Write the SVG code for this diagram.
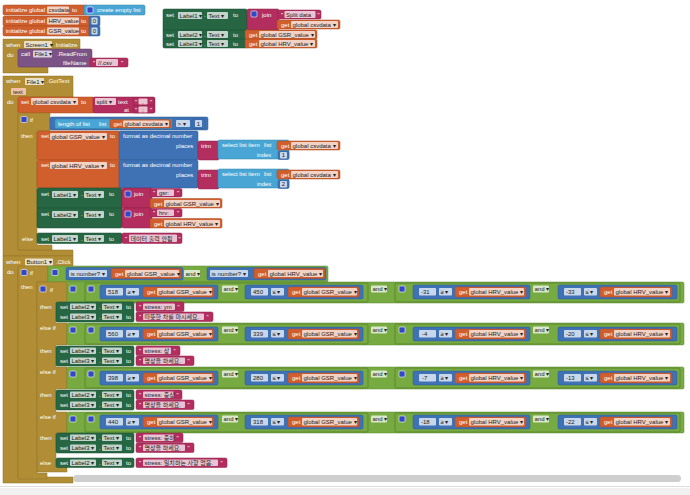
<svg xmlns="http://www.w3.org/2000/svg" width="690" height="495" viewBox="0 0 690 495">
<style>
text{font-family:"Liberation Sans","Noto Sans CJK KR",sans-serif;font-size:6px;fill:#fff}
.d{fill:#222}
.var{fill:#d05f2d;stroke:#a84a22;stroke-width:.5}
.ctl{fill:#b18e35;stroke:#8e7028;stroke-width:.5}
.lg{fill:#77ab41;stroke:#5e8a32;stroke-width:.5}
.lg2{fill:#77ab41;stroke:#55802c;stroke-width:.8}
.mt{fill:#3f71b5;stroke:#2f5890;stroke-width:.5}
.tx{fill:#b32d5e;stroke:#8e2249;stroke-width:.5}
.ls{fill:#49a6d4;stroke:#3686ad;stroke-width:.5}
.cs{fill:#266643;stroke:#1b4c31;stroke-width:.5}
.cm{fill:#7c5385;stroke:#5f3f66;stroke-width:.5}
.f{fill:#fff;fill-opacity:.72}
.p{fill:#f3c2a6}
.g{fill:#3148c8;stroke:#fff;stroke-width:.6}
</style>
<rect width="690" height="495" fill="#fff"/>

<g id="init-csvdata">
<rect class="var" x="3" y="5" width="84" height="10" rx="1.5"/>
<text x="6" y="12">initialize global</text>
<rect class="f" x="47" y="6.5" width="22" height="7" rx="1"/><text class="d" x="48.5" y="12">csvdata</text>
<text x="72" y="12">to</text>
<rect class="ls" x="84" y="5" width="61" height="10" rx="1.5"/>
<rect class="g" x="87" y="7" width="6" height="6" rx="1"/>
<text x="97" y="12">create empty list</text>
</g>

<g id="init-hrv">
<rect class="var" x="3" y="16" width="88" height="10" rx="1.5"/>
<text x="6" y="23">initialize global</text>
<rect class="f" x="47" y="17.5" width="32" height="7" rx="1"/><text class="d" x="48.5" y="23">HRV_value</text>
<text x="81" y="23">to</text>
<rect class="mt" x="89" y="16" width="11" height="10" rx="1.5"/>
<rect class="f" x="91.5" y="17.5" width="6" height="7" rx="1"/><text class="d" x="92.8" y="23">0</text>
</g>

<g id="init-gsr">
<rect class="var" x="3" y="26" width="88" height="10" rx="1.5"/>
<text x="6" y="33">initialize global</text>
<rect class="f" x="47" y="27.5" width="32" height="7" rx="1"/><text class="d" x="48.5" y="33">GSR_value</text>
<text x="81" y="33">to</text>
<rect class="mt" x="89" y="26" width="11" height="10" rx="1.5"/>
<rect class="f" x="91.5" y="27.5" width="6" height="7" rx="1"/><text class="d" x="92.8" y="33">0</text>
</g>

<g id="screen1-initialize">
<path class="ctl" d="M3 39 H80 V50 H18 V67 H48 V73 H3 Z"/>
<text x="6" y="46.5">when</text>
<rect class="f" x="24" y="41" width="28" height="7" rx="1"/><text class="d" x="25.5" y="46.5">Screen1 ▾</text>
<text x="54" y="46.5">.Initialize</text>
<text x="7" y="57">do</text>
<rect class="cm" x="18" y="49" width="74" height="18" rx="1.5"/>
<text x="21" y="55.5">call</text>
<rect class="f" x="33" y="50.5" width="19" height="7" rx="1"/><text class="d" x="34.5" y="56">File1 ▾</text>
<text x="57" y="55.5">.ReadFrom</text>
<text x="63" y="64.5">fileName</text>
<rect class="tx" x="90" y="58" width="38" height="9" rx="1.5"/>
<text x="93" y="64.5">"</text>
<rect class="f" x="96" y="59" width="22" height="7" rx="1"/><text class="d" x="98" y="64.5">//.csv</text>
<text x="121" y="64.5">"</text>
</g>

<g id="set-labels-top">
<rect class="cs" x="163" y="9" width="84" height="39" rx="1.5"/>
<text x="166" y="17">set</text>
<rect class="f" x="178" y="12" width="24" height="7" rx="1"/><text class="d" x="179.5" y="17.5">Label1 ▾</text>
<text x="204" y="17">.</text>
<rect class="f" x="207" y="12" width="21" height="7" rx="1"/><text class="d" x="208.5" y="17.5">Text ▾</text>
<text x="233" y="17">to</text>
<rect class="tx" x="247" y="9" width="32" height="21" rx="1.5"/>
<rect class="g" x="251" y="11" width="6" height="6" rx="1"/>
<text x="262" y="16.5">join</text>
<rect class="tx" x="278" y="10" width="43" height="9" rx="1.5"/>
<text x="281" y="16.5">"</text>
<rect class="f" x="284.5" y="11" width="31" height="7" rx="1"/><text class="d" x="286" y="16.5">Split data</text>
<text x="317.5" y="16.5">"</text>
<rect class="var" x="277" y="20" width="63" height="9" rx="1.5"/>
<text x="281" y="26.5">get</text>
<rect class="f" x="291" y="21" width="47" height="7" rx="1"/><text class="d" x="292.5" y="26.5">global csvdata ▾</text>
<line x1="163" y1="30" x2="247" y2="30" stroke="#1b4c31" stroke-width=".5"/>
<text x="166" y="36.5">set</text>
<rect class="f" x="178" y="31" width="24" height="7" rx="1"/><text class="d" x="179.5" y="36.5">Label2 ▾</text>
<text x="204" y="36.5">.</text>
<rect class="f" x="207" y="31" width="21" height="7" rx="1"/><text class="d" x="208.5" y="36.5">Text ▾</text>
<text x="233" y="36.5">to</text>
<rect class="var" x="245" y="30" width="72" height="9" rx="1.5"/>
<text x="249" y="36.5">get</text>
<rect class="f" x="259" y="31" width="56" height="7" rx="1"/><text class="d" x="260.5" y="36.5">global GSR_value ▾</text>
<line x1="163" y1="39" x2="245" y2="39" stroke="#1b4c31" stroke-width=".5"/>
<text x="166" y="45.5">set</text>
<rect class="f" x="178" y="40" width="24" height="7" rx="1"/><text class="d" x="179.5" y="45.5">Label3 ▾</text>
<text x="204" y="45.5">.</text>
<rect class="f" x="207" y="40" width="21" height="7" rx="1"/><text class="d" x="208.5" y="45.5">Text ▾</text>
<text x="233" y="45.5">to</text>
<rect class="var" x="245" y="39" width="72" height="9" rx="1.5"/>
<text x="249" y="45.5">get</text>
<rect class="f" x="259" y="40" width="56" height="7" rx="1"/><text class="d" x="260.5" y="45.5">global HRV_value ▾</text>
</g>

<g id="file1-gottext">
<path class="ctl" d="M3 76 H73 V97 H18 V250 H73 V256 H3 Z"/>
<text x="6" y="83">when</text>
<rect class="f" x="25" y="78" width="19" height="7" rx="1"/><text class="d" x="26.5" y="83.5">File1 ▾</text>
<text x="47" y="83">.GotText</text>
<rect class="p" x="11" y="88" width="15" height="7" rx="1"/><text class="d" x="13" y="93.5">text</text>
<text x="7" y="104">do</text>
<rect class="var" x="18" y="97" width="76" height="16" rx="1.5"/>
<text x="21" y="103.5">set</text>
<rect class="f" x="31" y="98" width="47" height="7" rx="1"/><text class="d" x="32.5" y="103.5">global csvdata ▾</text>
<text x="81" y="103.5">to</text>
<rect class="tx" x="93" y="97" width="62" height="16" rx="1.5"/>
<rect class="f" x="95" y="98" width="21" height="7" rx="1"/><text class="d" x="96.5" y="103.5">split ▾</text>
<text x="118" y="103.5">text</text>
<rect class="tx" x="133" y="97.5" width="21" height="7.5" rx="1.5"/>
<text x="135" y="103.5">"</text>
<rect class="f" x="138.5" y="98.5" width="9" height="6" rx="1"/><text class="d" x="142" y="103.5">,</text>
<text x="150" y="103.5">"</text>
<text x="124" y="111.5">at</text>
<rect class="tx" x="133" y="105.5" width="21" height="7.5" rx="1.5"/>
<text x="135" y="111.5">"</text>
<rect class="f" x="138.5" y="106.5" width="9" height="6" rx="1"/><text class="d" x="142" y="111.5">;</text>
<text x="150" y="111.5">"</text>

<path class="ctl" d="M18 113 H50 V131 H37 V245 H52 V250 H18 Z"/>
<rect class="g" x="21" y="116.5" width="6" height="6" rx="1"/>
<text x="30" y="122">if</text>
<text x="21" y="137.5">then</text>
<text x="22" y="240.5">else</text>
<rect class="mt" x="50" y="117" width="158" height="13" rx="1.5"/>
<rect class="ls" x="55" y="119" width="117" height="9.5" rx="1.5"/>
<text x="58" y="125.5">length of list</text>
<text x="99" y="125.5">list</text>
<rect class="var" x="110" y="119.5" width="61" height="8.5" rx="1.5"/>
<text x="113.5" y="126">get</text>
<rect class="f" x="123" y="120.5" width="46" height="6.5" rx="1"/><text class="d" x="124.5" y="125.8">global csvdata ▾</text>
<rect class="f" x="176" y="120" width="14" height="7" rx="1"/><text class="d" x="177.5" y="125.5">&gt; ▾</text>
<rect class="mt" x="192" y="119" width="13" height="9.5" rx="1.5"/>
<rect class="f" x="195" y="120" width="7" height="7" rx="1"/><text class="d" x="196.8" y="125.5">1</text>

<rect class="var" x="37" y="131" width="83" height="29" rx="1.5"/>
<text x="41" y="138">set</text>
<rect class="f" x="50" y="133" width="57" height="7" rx="1"/><text class="d" x="51.5" y="138.5">global GSR_value ▾</text>
<text x="110" y="138">to</text>
<rect class="mt" x="119" y="131" width="79" height="29" rx="1.5"/>
<text x="123" y="138">format as decimal number</text>
<text x="176" y="148">places</text>
<rect class="tx" x="198" y="141" width="21" height="19" rx="1.5"/>
<text x="201" y="148">trim</text>
<rect class="ls" x="218" y="140" width="71" height="19" rx="1.5"/>
<text x="222" y="147">select list item</text>
<text x="264" y="147">list</text>
<text x="257" y="157">index</text>
<rect class="var" x="277" y="141" width="63" height="9" rx="1.5"/>
<text x="281" y="147.5">get</text>
<rect class="f" x="291" y="142" width="47" height="7" rx="1"/><text class="d" x="292.5" y="147.5">global csvdata ▾</text>
<rect class="mt" x="278" y="151" width="11" height="8.5" rx="1.5"/>
<rect class="f" x="280" y="152" width="7" height="6.5" rx="1"/><text class="d" x="281.8" y="157.2">1</text>

<rect class="var" x="37" y="160" width="83" height="28" rx="1.5"/>
<text x="41" y="167">set</text>
<rect class="f" x="50" y="162" width="57" height="7" rx="1"/><text class="d" x="51.5" y="167.5">global HRV_value ▾</text>
<text x="110" y="167">to</text>
<rect class="mt" x="119" y="160" width="79" height="28" rx="1.5"/>
<text x="123" y="167">format as decimal number</text>
<text x="176" y="177">places</text>
<rect class="tx" x="198" y="170" width="21" height="19" rx="1.5"/>
<text x="201" y="177">trim</text>
<rect class="ls" x="218" y="169" width="71" height="19" rx="1.5"/>
<text x="222" y="176">select list item</text>
<text x="264" y="176">list</text>
<text x="257" y="186">index</text>
<rect class="var" x="277" y="170" width="63" height="9" rx="1.5"/>
<text x="281" y="176.5">get</text>
<rect class="f" x="291" y="171" width="47" height="7" rx="1"/><text class="d" x="292.5" y="176.5">global csvdata ▾</text>
<rect class="mt" x="278" y="180" width="11" height="8.5" rx="1.5"/>
<rect class="f" x="280" y="181" width="7" height="6.5" rx="1"/><text class="d" x="281.8" y="186.2">2</text>

<rect class="cs" x="37" y="188" width="85" height="40" rx="1.5"/>
<line x1="37" y1="208" x2="122" y2="208" stroke="#1b4c31" stroke-width=".5"/>
<text x="41" y="196">set</text>
<rect class="f" x="52" y="191" width="26" height="7" rx="1"/><text class="d" x="53.5" y="196.5">Label1 ▾</text>
<text x="81" y="196">.</text>
<rect class="f" x="84" y="191" width="20" height="7" rx="1"/><text class="d" x="85.5" y="196.5">Text ▾</text>
<text x="109" y="196">to</text>
<rect class="tx" x="122" y="188" width="30" height="20" rx="1.5"/>
<rect class="g" x="125" y="191" width="6" height="6" rx="1"/>
<text x="134" y="196">join</text>
<rect class="tx" x="150" y="188.5" width="32" height="8.5" rx="1.5"/>
<text x="153" y="195">"</text>
<rect class="f" x="157" y="189.5" width="17" height="6.5" rx="1"/><text class="d" x="159" y="194.8">gsr:</text>
<text x="177" y="195">"</text>
<rect class="var" x="150" y="198.5" width="72" height="9.5" rx="1.5"/>
<text x="154" y="205.5">get</text>
<rect class="f" x="164" y="200" width="56" height="7" rx="1"/><text class="d" x="165.5" y="205.5">global GSR_value ▾</text>
<text x="41" y="216">set</text>
<rect class="f" x="52" y="211" width="26" height="7" rx="1"/><text class="d" x="53.5" y="216.5">Label2 ▾</text>
<text x="81" y="216">.</text>
<rect class="f" x="84" y="211" width="20" height="7" rx="1"/><text class="d" x="85.5" y="216.5">Text ▾</text>
<text x="109" y="216">to</text>
<rect class="tx" x="122" y="208" width="30" height="20" rx="1.5"/>
<rect class="g" x="125" y="211" width="6" height="6" rx="1"/>
<text x="134" y="216">join</text>
<rect class="tx" x="150" y="208.5" width="32" height="8.5" rx="1.5"/>
<text x="153" y="215">"</text>
<rect class="f" x="157" y="209.5" width="17" height="6.5" rx="1"/><text class="d" x="159" y="214.8">hrv:</text>
<text x="177" y="215">"</text>
<rect class="var" x="150" y="218.5" width="72" height="9.5" rx="1.5"/>
<text x="154" y="225.5">get</text>
<rect class="f" x="164" y="220" width="56" height="7" rx="1"/><text class="d" x="165.5" y="225.5">global HRV_value ▾</text>

<rect class="cs" x="37" y="233" width="85" height="10.5" rx="1.5"/>
<text x="41" y="240.5">set</text>
<rect class="f" x="52" y="235" width="26" height="7" rx="1"/><text class="d" x="53.5" y="240.5">Label1 ▾</text>
<text x="81" y="240.5">.</text>
<rect class="f" x="84" y="235" width="20" height="7" rx="1"/><text class="d" x="85.5" y="240.5">Text ▾</text>
<text x="109" y="240.5">to</text>
<rect class="tx" x="122" y="233" width="60" height="10.5" rx="1.5"/>
<text x="125" y="240.5">"</text>
<rect class="f" x="129" y="234.5" width="48" height="7.5" rx="1"/><text class="d" x="130.5" y="240.5">데이터 출력 안됨</text>
<text x="178.5" y="240.5">"</text>
</g>

<g id="button1-click">
<path class="ctl" d="M3 256 H73 V267 H18 V477 H73 V483 H3 Z"/>
<text x="6" y="263.5">when</text>
<rect class="f" x="25" y="258.5" width="28" height="7" rx="1"/><text class="d" x="26.5" y="264">Button1 ▾</text>
<text x="56" y="263.5">.Click</text>
<text x="7" y="274">do</text>

<path class="ctl" d="M18 266 H48 V282 H37 V473 H47 V479 H18 Z"/>
<rect class="g" x="21" y="269.5" width="6" height="6" rx="1"/>
<text x="30" y="275">if</text>
<text x="21" y="289">then</text>
<rect class="lg" x="48" y="266" width="280" height="16" rx="1.5"/>
<rect class="g" x="52" y="269.5" width="6" height="6" rx="1"/>
<rect class="mt" x="66" y="267.5" width="117" height="12.5" rx="1.5"/>
<rect class="f" x="69" y="270" width="38" height="7" rx="1"/><text class="d" x="70.5" y="275.5">is number? ▾</text>
<rect class="var" x="111" y="268.5" width="70" height="10" rx="1.5"/>
<text x="115" y="275.5">get</text>
<rect class="f" x="125" y="270" width="54" height="7" rx="1"/><text class="d" x="126.5" y="275.5">global GSR_value ▾</text>
<rect class="f" x="184" y="270" width="16" height="7" rx="1"/><text class="d" x="185.5" y="275.5">and ▾</text>
<rect class="mt" x="207" y="267.5" width="119" height="12.5" rx="1.5"/>
<rect class="f" x="210" y="270" width="38" height="7" rx="1"/><text class="d" x="211.5" y="275.5">is number? ▾</text>
<rect class="var" x="254" y="268.5" width="71" height="10" rx="1.5"/>
<text x="258" y="275.5">get</text>
<rect class="f" x="268" y="270" width="55" height="7" rx="1"/><text class="d" x="269.5" y="275.5">global HRV_value ▾</text>

<path class="ctl" d="M37 282 H67 V303 H56 V323 H67 V345 H56 V367 H67 V389 H56 V412 H67 V433 H56 V467 H67 V472 H37 Z"/>
<rect class="g" x="40" y="286" width="6" height="6" rx="1"/>
<text x="50" y="292">if</text>
<text x="40" y="309">then</text>
<text x="40" y="330">else if</text>
<text x="40" y="353">then</text>
<text x="40" y="374">else if</text>
<text x="40" y="397">then</text>
<text x="40" y="419">else if</text>
<text x="40" y="440">then</text>
<text x="40" y="465">else</text>
</g>

<g id="cond-1">
<rect class="lg" x="67" y="282" width="617" height="21" rx="1.5"/>
<rect class="g" x="70" y="286" width="6" height="6" rx="1"/>
<rect class="lg2" x="85" y="283" width="283" height="19" rx="1.5"/>
<rect class="g" x="88" y="286" width="6" height="6" rx="1"/>
<rect class="mt" x="100" y="285" width="118" height="14" rx="1.5"/>
<rect class="f" x="106" y="288" width="17" height="7.5" rx="1"/><text class="d" x="108" y="293.5">518</text>
<rect class="f" x="126" y="288" width="13" height="7.5" rx="1"/><text class="d" x="127.5" y="293.5">≥ ▾</text>
<rect class="var" x="143" y="287" width="71" height="10" rx="1.5"/><text x="147" y="293.5">get</text>
<rect class="f" x="157" y="288" width="55" height="7.5" rx="1"/><text class="d" x="158.5" y="293.5">global GSR_value ▾</text>
<rect class="f" x="222" y="285.5" width="16" height="7" rx="1"/><text class="d" x="223.5" y="291">and ▾</text>
<rect class="mt" x="245" y="285" width="118" height="14" rx="1.5"/>
<rect class="f" x="251" y="288" width="17" height="7.5" rx="1"/><text class="d" x="253" y="293.5">450</text>
<rect class="f" x="271" y="288" width="13" height="7.5" rx="1"/><text class="d" x="272.5" y="293.5">≤ ▾</text>
<rect class="var" x="288" y="287" width="71" height="10" rx="1.5"/><text x="292" y="293.5">get</text>
<rect class="f" x="302" y="288" width="55" height="7.5" rx="1"/><text class="d" x="303.5" y="293.5">global GSR_value ▾</text>
<rect class="f" x="371" y="285.5" width="16" height="7" rx="1"/><text class="d" x="372.5" y="291">and ▾</text>
<rect class="lg2" x="395" y="283" width="285" height="19" rx="1.5"/>
<rect class="g" x="399" y="286" width="6" height="6" rx="1"/>
<rect class="mt" x="413" y="285" width="117" height="14" rx="1.5"/>
<rect class="f" x="419" y="288" width="17" height="7.5" rx="1"/><text class="d" x="421" y="293.5">-31</text>
<rect class="f" x="439" y="288" width="13" height="7.5" rx="1"/><text class="d" x="440.5" y="293.5">≥ ▾</text>
<rect class="var" x="455" y="287" width="71" height="10" rx="1.5"/><text x="459" y="293.5">get</text>
<rect class="f" x="469" y="288" width="55" height="7.5" rx="1"/><text class="d" x="470.5" y="293.5">global HRV_value ▾</text>
<rect class="f" x="533" y="285.5" width="16" height="7" rx="1"/><text class="d" x="534.5" y="291">and ▾</text>
<rect class="mt" x="558" y="285" width="119" height="14" rx="1.5"/>
<rect class="f" x="564" y="288" width="17" height="7.5" rx="1"/><text class="d" x="566" y="293.5">-33</text>
<rect class="f" x="584" y="288" width="13" height="7.5" rx="1"/><text class="d" x="585.5" y="293.5">≤ ▾</text>
<rect class="var" x="600" y="287" width="72" height="10" rx="1.5"/><text x="604" y="293.5">get</text>
<rect class="f" x="614" y="288" width="56" height="7.5" rx="1"/><text class="d" x="615.5" y="293.5">global HRV_value ▾</text>
</g>

<g id="cond-2">
<rect class="lg" x="67" y="323" width="617" height="22" rx="1.5"/>
<rect class="g" x="70" y="327" width="6" height="6" rx="1"/>
<rect class="lg2" x="85" y="324" width="283" height="20" rx="1.5"/>
<rect class="g" x="88" y="327" width="6" height="6" rx="1"/>
<rect class="mt" x="100" y="327" width="118" height="14" rx="1.5"/>
<rect class="f" x="106" y="330" width="17" height="7.5" rx="1"/><text class="d" x="108" y="335.5">560</text>
<rect class="f" x="126" y="330" width="13" height="7.5" rx="1"/><text class="d" x="127.5" y="335.5">≥ ▾</text>
<rect class="var" x="143" y="329" width="71" height="10" rx="1.5"/><text x="147" y="335.5">get</text>
<rect class="f" x="157" y="330" width="55" height="7.5" rx="1"/><text class="d" x="158.5" y="335.5">global GSR_value ▾</text>
<rect class="f" x="222" y="326.5" width="16" height="7" rx="1"/><text class="d" x="223.5" y="332">and ▾</text>
<rect class="mt" x="245" y="327" width="118" height="14" rx="1.5"/>
<rect class="f" x="251" y="330" width="17" height="7.5" rx="1"/><text class="d" x="253" y="335.5">339</text>
<rect class="f" x="271" y="330" width="13" height="7.5" rx="1"/><text class="d" x="272.5" y="335.5">≤ ▾</text>
<rect class="var" x="288" y="329" width="71" height="10" rx="1.5"/><text x="292" y="335.5">get</text>
<rect class="f" x="302" y="330" width="55" height="7.5" rx="1"/><text class="d" x="303.5" y="335.5">global GSR_value ▾</text>
<rect class="f" x="371" y="326.5" width="16" height="7" rx="1"/><text class="d" x="372.5" y="332">and ▾</text>
<rect class="lg2" x="395" y="324" width="285" height="20" rx="1.5"/>
<rect class="g" x="399" y="327" width="6" height="6" rx="1"/>
<rect class="mt" x="413" y="327" width="117" height="14" rx="1.5"/>
<rect class="f" x="419" y="330" width="17" height="7.5" rx="1"/><text class="d" x="422" y="335.5">-4</text>
<rect class="f" x="439" y="330" width="13" height="7.5" rx="1"/><text class="d" x="440.5" y="335.5">≥ ▾</text>
<rect class="var" x="455" y="329" width="71" height="10" rx="1.5"/><text x="459" y="335.5">get</text>
<rect class="f" x="469" y="330" width="55" height="7.5" rx="1"/><text class="d" x="470.5" y="335.5">global HRV_value ▾</text>
<rect class="f" x="533" y="326.5" width="16" height="7" rx="1"/><text class="d" x="534.5" y="332">and ▾</text>
<rect class="mt" x="558" y="327" width="119" height="14" rx="1.5"/>
<rect class="f" x="564" y="330" width="17" height="7.5" rx="1"/><text class="d" x="566" y="335.5">-20</text>
<rect class="f" x="584" y="330" width="13" height="7.5" rx="1"/><text class="d" x="585.5" y="335.5">≤ ▾</text>
<rect class="var" x="600" y="329" width="72" height="10" rx="1.5"/><text x="604" y="335.5">get</text>
<rect class="f" x="614" y="330" width="56" height="7.5" rx="1"/><text class="d" x="615.5" y="335.5">global HRV_value ▾</text>
</g>

<g id="cond-3">
<rect class="lg" x="67" y="367" width="617" height="22" rx="1.5"/>
<rect class="g" x="70" y="371" width="6" height="6" rx="1"/>
<rect class="lg2" x="85" y="368" width="283" height="20" rx="1.5"/>
<rect class="g" x="88" y="371" width="6" height="6" rx="1"/>
<rect class="mt" x="100" y="371" width="118" height="14" rx="1.5"/>
<rect class="f" x="106" y="374" width="17" height="7.5" rx="1"/><text class="d" x="108" y="379.5">398</text>
<rect class="f" x="126" y="374" width="13" height="7.5" rx="1"/><text class="d" x="127.5" y="379.5">≥ ▾</text>
<rect class="var" x="143" y="373" width="71" height="10" rx="1.5"/><text x="147" y="379.5">get</text>
<rect class="f" x="157" y="374" width="55" height="7.5" rx="1"/><text class="d" x="158.5" y="379.5">global GSR_value ▾</text>
<rect class="f" x="222" y="370.5" width="16" height="7" rx="1"/><text class="d" x="223.5" y="376">and ▾</text>
<rect class="mt" x="245" y="371" width="118" height="14" rx="1.5"/>
<rect class="f" x="251" y="374" width="17" height="7.5" rx="1"/><text class="d" x="253" y="379.5">280</text>
<rect class="f" x="271" y="374" width="13" height="7.5" rx="1"/><text class="d" x="272.5" y="379.5">≤ ▾</text>
<rect class="var" x="288" y="373" width="71" height="10" rx="1.5"/><text x="292" y="379.5">get</text>
<rect class="f" x="302" y="374" width="55" height="7.5" rx="1"/><text class="d" x="303.5" y="379.5">global GSR_value ▾</text>
<rect class="f" x="371" y="370.5" width="16" height="7" rx="1"/><text class="d" x="372.5" y="376">and ▾</text>
<rect class="lg2" x="395" y="368" width="285" height="20" rx="1.5"/>
<rect class="g" x="399" y="371" width="6" height="6" rx="1"/>
<rect class="mt" x="413" y="371" width="117" height="14" rx="1.5"/>
<rect class="f" x="419" y="374" width="17" height="7.5" rx="1"/><text class="d" x="422" y="379.5">-7</text>
<rect class="f" x="439" y="374" width="13" height="7.5" rx="1"/><text class="d" x="440.5" y="379.5">≥ ▾</text>
<rect class="var" x="455" y="373" width="71" height="10" rx="1.5"/><text x="459" y="379.5">get</text>
<rect class="f" x="469" y="374" width="55" height="7.5" rx="1"/><text class="d" x="470.5" y="379.5">global HRV_value ▾</text>
<rect class="f" x="533" y="370.5" width="16" height="7" rx="1"/><text class="d" x="534.5" y="376">and ▾</text>
<rect class="mt" x="558" y="371" width="119" height="14" rx="1.5"/>
<rect class="f" x="564" y="374" width="17" height="7.5" rx="1"/><text class="d" x="566" y="379.5">-13</text>
<rect class="f" x="584" y="374" width="13" height="7.5" rx="1"/><text class="d" x="585.5" y="379.5">≤ ▾</text>
<rect class="var" x="600" y="373" width="72" height="10" rx="1.5"/><text x="604" y="379.5">get</text>
<rect class="f" x="614" y="374" width="56" height="7.5" rx="1"/><text class="d" x="615.5" y="379.5">global HRV_value ▾</text>
</g>

<g id="cond-4">
<rect class="lg" x="67" y="412" width="617" height="21" rx="1.5"/>
<rect class="g" x="70" y="416" width="6" height="6" rx="1"/>
<rect class="lg2" x="85" y="413" width="283" height="19" rx="1.5"/>
<rect class="g" x="88" y="416" width="6" height="6" rx="1"/>
<rect class="mt" x="100" y="415" width="118" height="14" rx="1.5"/>
<rect class="f" x="106" y="418" width="17" height="7.5" rx="1"/><text class="d" x="108" y="423.5">440</text>
<rect class="f" x="126" y="418" width="13" height="7.5" rx="1"/><text class="d" x="127.5" y="423.5">≥ ▾</text>
<rect class="var" x="143" y="417" width="71" height="10" rx="1.5"/><text x="147" y="423.5">get</text>
<rect class="f" x="157" y="418" width="55" height="7.5" rx="1"/><text class="d" x="158.5" y="423.5">global GSR_value ▾</text>
<rect class="f" x="222" y="415.5" width="16" height="7" rx="1"/><text class="d" x="223.5" y="421">and ▾</text>
<rect class="mt" x="245" y="415" width="118" height="14" rx="1.5"/>
<rect class="f" x="251" y="418" width="17" height="7.5" rx="1"/><text class="d" x="253" y="423.5">318</text>
<rect class="f" x="271" y="418" width="13" height="7.5" rx="1"/><text class="d" x="272.5" y="423.5">≤ ▾</text>
<rect class="var" x="288" y="417" width="71" height="10" rx="1.5"/><text x="292" y="423.5">get</text>
<rect class="f" x="302" y="418" width="55" height="7.5" rx="1"/><text class="d" x="303.5" y="423.5">global GSR_value ▾</text>
<rect class="f" x="371" y="415.5" width="16" height="7" rx="1"/><text class="d" x="372.5" y="421">and ▾</text>
<rect class="lg2" x="395" y="413" width="285" height="19" rx="1.5"/>
<rect class="g" x="399" y="416" width="6" height="6" rx="1"/>
<rect class="mt" x="413" y="415" width="117" height="14" rx="1.5"/>
<rect class="f" x="419" y="418" width="17" height="7.5" rx="1"/><text class="d" x="421" y="423.5">-18</text>
<rect class="f" x="439" y="418" width="13" height="7.5" rx="1"/><text class="d" x="440.5" y="423.5">≥ ▾</text>
<rect class="var" x="455" y="417" width="71" height="10" rx="1.5"/><text x="459" y="423.5">get</text>
<rect class="f" x="469" y="418" width="55" height="7.5" rx="1"/><text class="d" x="470.5" y="423.5">global HRV_value ▾</text>
<rect class="f" x="533" y="415.5" width="16" height="7" rx="1"/><text class="d" x="534.5" y="421">and ▾</text>
<rect class="mt" x="558" y="415" width="119" height="14" rx="1.5"/>
<rect class="f" x="564" y="418" width="17" height="7.5" rx="1"/><text class="d" x="566" y="423.5">-22</text>
<rect class="f" x="584" y="418" width="13" height="7.5" rx="1"/><text class="d" x="585.5" y="423.5">≤ ▾</text>
<rect class="var" x="600" y="417" width="72" height="10" rx="1.5"/><text x="604" y="423.5">get</text>
<rect class="f" x="614" y="418" width="56" height="7.5" rx="1"/><text class="d" x="615.5" y="423.5">global HRV_value ▾</text>
</g>

<g id="then-1">
<rect class="cs" x="56" y="302" width="78" height="20" rx="1.5"/>
<text x="60" y="309">set</text>
<rect class="f" x="70" y="303.5" width="26" height="6.5" rx="1"/><text class="d" x="71.5" y="308.5">Label2 ▾</text>
<text x="99" y="309">.</text>
<rect class="f" x="102" y="303.5" width="20" height="6.5" rx="1"/><text class="d" x="103.5" y="308.5">Text ▾</text>
<text x="126" y="309">to</text>
<rect class="tx" x="136" y="302" width="48" height="9.5" rx="1.5"/>
<text x="139" y="309">"</text>
<rect class="f" x="143" y="303.5" width="32" height="6.5" rx="1"/><text class="d" x="144.5" y="308.5">stress: ym</text>
<text x="177.5" y="309">"</text>
<text x="60" y="319">set</text>
<rect class="f" x="70" y="313.5" width="26" height="6.5" rx="1"/><text class="d" x="71.5" y="318.5">Label3 ▾</text>
<text x="99" y="319">.</text>
<rect class="f" x="102" y="313.5" width="20" height="6.5" rx="1"/><text class="d" x="103.5" y="318.5">Text ▾</text>
<text x="126" y="319">to</text>
<rect class="tx" x="136" y="312" width="77" height="9.5" rx="1.5"/>
<text x="139" y="319">"</text>
<rect class="f" x="143" y="313.5" width="61" height="6.5" rx="1"/><text class="d" x="144.5" y="318.5">따뜻한 차를 마시세요.</text>
<text x="206.5" y="319">"</text>
</g>

<g id="then-2">
<rect class="cs" x="56" y="346" width="78" height="20" rx="1.5"/>
<text x="60" y="353">set</text>
<rect class="f" x="70" y="347.5" width="26" height="6.5" rx="1"/><text class="d" x="71.5" y="352.5">Label2 ▾</text>
<text x="99" y="353">.</text>
<rect class="f" x="102" y="347.5" width="20" height="6.5" rx="1"/><text class="d" x="103.5" y="352.5">Text ▾</text>
<text x="126" y="353">to</text>
<rect class="tx" x="136" y="346" width="44" height="9.5" rx="1.5"/>
<text x="139" y="353">"</text>
<rect class="f" x="143" y="347.5" width="28" height="6.5" rx="1"/><text class="d" x="144.5" y="352.5">stress: 상</text>
<text x="173.5" y="353">"</text>
<text x="60" y="363">set</text>
<rect class="f" x="70" y="357.5" width="26" height="6.5" rx="1"/><text class="d" x="71.5" y="362.5">Label3 ▾</text>
<text x="99" y="363">.</text>
<rect class="f" x="102" y="357.5" width="20" height="6.5" rx="1"/><text class="d" x="103.5" y="362.5">Text ▾</text>
<text x="126" y="363">to</text>
<rect class="tx" x="136" y="356" width="58" height="9.5" rx="1.5"/>
<text x="139" y="363">"</text>
<rect class="f" x="143" y="357.5" width="42" height="6.5" rx="1"/><text class="d" x="144.5" y="362.5">명상을 하세요.</text>
<text x="187.5" y="363">"</text>
</g>

<g id="then-3">
<rect class="cs" x="56" y="390" width="78" height="20" rx="1.5"/>
<text x="60" y="397">set</text>
<rect class="f" x="70" y="391.5" width="26" height="6.5" rx="1"/><text class="d" x="71.5" y="396.5">Label2 ▾</text>
<text x="99" y="397">.</text>
<rect class="f" x="102" y="391.5" width="20" height="6.5" rx="1"/><text class="d" x="103.5" y="396.5">Text ▾</text>
<text x="126" y="397">to</text>
<rect class="tx" x="136" y="390" width="46" height="9.5" rx="1.5"/>
<text x="139" y="397">"</text>
<rect class="f" x="143" y="391.5" width="31" height="6.5" rx="1"/><text class="d" x="144.5" y="396.5">stress: 중상</text>
<text x="176.5" y="397">"</text>
<text x="60" y="407">set</text>
<rect class="f" x="70" y="401.5" width="26" height="6.5" rx="1"/><text class="d" x="71.5" y="406.5">Label3 ▾</text>
<text x="99" y="407">.</text>
<rect class="f" x="102" y="401.5" width="20" height="6.5" rx="1"/><text class="d" x="103.5" y="406.5">Text ▾</text>
<text x="126" y="407">to</text>
<rect class="tx" x="136" y="400" width="58" height="9.5" rx="1.5"/>
<text x="139" y="407">"</text>
<rect class="f" x="143" y="401.5" width="42" height="6.5" rx="1"/><text class="d" x="144.5" y="406.5">명상을 하세요.</text>
<text x="187.5" y="407">"</text>
</g>

<g id="then-4">
<rect class="cs" x="56" y="433" width="78" height="20" rx="1.5"/>
<text x="60" y="440">set</text>
<rect class="f" x="70" y="434.5" width="26" height="6.5" rx="1"/><text class="d" x="71.5" y="439.5">Label2 ▾</text>
<text x="99" y="440">.</text>
<rect class="f" x="102" y="434.5" width="20" height="6.5" rx="1"/><text class="d" x="103.5" y="439.5">Text ▾</text>
<text x="126" y="440">to</text>
<rect class="tx" x="136" y="433" width="47" height="9.5" rx="1.5"/>
<text x="139" y="440">"</text>
<rect class="f" x="143" y="434.5" width="31" height="6.5" rx="1"/><text class="d" x="144.5" y="439.5">stress: 중하</text>
<text x="176.5" y="440">"</text>
<text x="60" y="450">set</text>
<rect class="f" x="70" y="444.5" width="26" height="6.5" rx="1"/><text class="d" x="71.5" y="449.5">Label3 ▾</text>
<text x="99" y="450">.</text>
<rect class="f" x="102" y="444.5" width="20" height="6.5" rx="1"/><text class="d" x="103.5" y="449.5">Text ▾</text>
<text x="126" y="450">to</text>
<rect class="tx" x="136" y="443" width="58" height="9.5" rx="1.5"/>
<text x="139" y="450">"</text>
<rect class="f" x="143" y="444.5" width="42" height="6.5" rx="1"/><text class="d" x="144.5" y="449.5">명상을 하세요.</text>
<text x="187.5" y="450">"</text>
</g>

<g id="else-branch">
<rect class="cs" x="56" y="458" width="78" height="9.5" rx="1.5"/>
<text x="60" y="465">set</text>
<rect class="f" x="70" y="459.5" width="26" height="6.5" rx="1"/><text class="d" x="71.5" y="464.5">Label2 ▾</text>
<text x="99" y="465">.</text>
<rect class="f" x="102" y="459.5" width="20" height="6.5" rx="1"/><text class="d" x="103.5" y="464.5">Text ▾</text>
<text x="126" y="465">to</text>
<rect class="tx" x="136" y="458" width="91" height="9.5" rx="1.5"/>
<text x="139" y="465">"</text>
<rect class="f" x="143" y="459.5" width="75" height="6.5" rx="1"/><text class="d" x="144.5" y="464.5">stress: 일치하는 사항 없음.</text>
<text x="220.5" y="465">"</text>
</g>

<g id="workspace-chrome">
<rect x="73" y="475" width="608" height="7" rx="3.5" fill="#cfcfcf"/>
<line x1="0" y1="486.5" x2="690" y2="486.5" stroke="#dddddd" stroke-width="1"/>
<rect x="0" y="488" width="690" height="7" fill="#f1f1f1"/>
</g>
</svg>
